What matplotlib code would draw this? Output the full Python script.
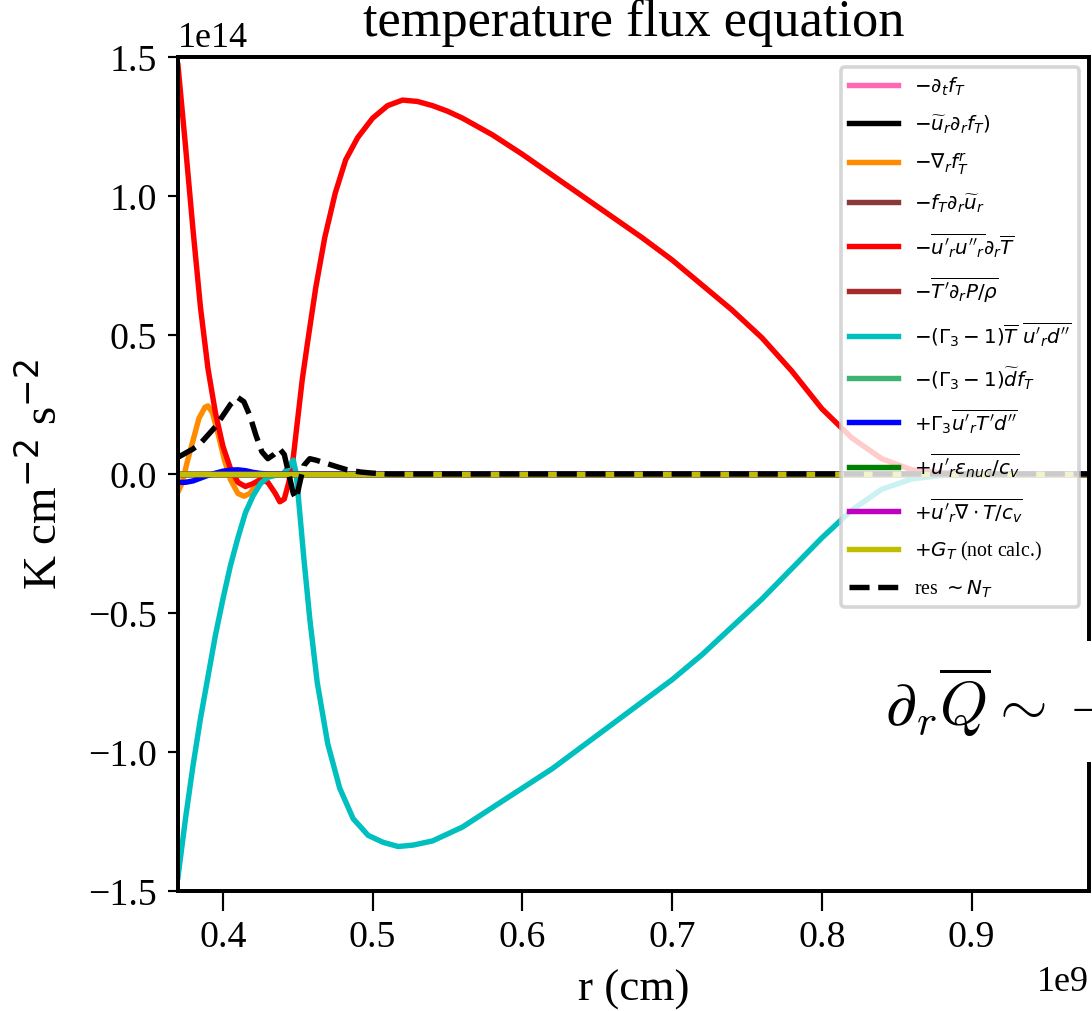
import matplotlib
matplotlib.use("Agg")
import matplotlib.pyplot as plt
import numpy as np
from matplotlib.patches import Rectangle

plt.rcParams["font.family"] = "serif"
plt.rcParams["font.serif"] = ["Liberation Serif", "DejaVu Serif"]
plt.rcParams["mathtext.fontset"] = "dejavusans"

# radius in units of 1e9 cm, terms in units of 1e14 K cm^-2 s^-2
r_red = [0.370, 0.375, 0.380, 0.385, 0.390, 0.395, 0.400, 0.405, 0.410, 0.415,
         0.420, 0.425, 0.430, 0.435, 0.438, 0.441, 0.444, 0.447, 0.450, 0.453,
         0.457, 0.462, 0.468, 0.475, 0.482, 0.490, 0.500, 0.510, 0.520, 0.530,
         0.540, 0.550, 0.560, 0.580, 0.600, 0.620, 0.640, 0.660, 0.680, 0.700,
         0.720, 0.740, 0.760, 0.780, 0.800, 0.820, 0.840, 0.860, 0.880, 0.900, 0.980]
prod_red = [1.47, 1.18, 0.88, 0.60, 0.38, 0.22, 0.10, 0.02, -0.03, -0.045,
            -0.035, -0.02, -0.03, -0.07, -0.10, -0.09, -0.03, 0.06, 0.20, 0.34,
            0.49, 0.67, 0.85, 1.01, 1.13, 1.21, 1.28, 1.325, 1.345, 1.34,
            1.325, 1.305, 1.28, 1.22, 1.15, 1.075, 1.00, 0.925, 0.85, 0.77,
            0.68, 0.59, 0.49, 0.37, 0.235, 0.13, 0.055, 0.015, 0.004, 0.0, 0.0]

r_cyan = [0.370, 0.375, 0.380, 0.385, 0.390, 0.395, 0.400, 0.405, 0.410, 0.415,
          0.420, 0.425, 0.430, 0.435, 0.440, 0.444, 0.447, 0.449, 0.451, 0.454,
          0.458, 0.463, 0.470, 0.478, 0.487, 0.497, 0.507, 0.517, 0.527, 0.540,
          0.560, 0.580, 0.600, 0.620, 0.640, 0.660, 0.680, 0.700, 0.720, 0.740,
          0.760, 0.780, 0.800, 0.820, 0.840, 0.860, 0.880, 0.900, 0.980]
buoy_cyan = [-1.45, -1.24, -1.05, -0.88, -0.73, -0.58, -0.45, -0.33, -0.23, -0.14,
             -0.08, -0.035, -0.012, -0.005, 0.0, 0.025, 0.05, 0.0, -0.12, -0.30,
             -0.52, -0.75, -0.97, -1.13, -1.24, -1.30, -1.325, -1.34, -1.335, -1.32,
             -1.27, -1.20, -1.13, -1.06, -0.98, -0.90, -0.82, -0.74, -0.65, -0.55,
             -0.45, -0.34, -0.23, -0.13, -0.055, -0.018, -0.005, 0.0, 0.0]

r_orange = [0.370, 0.373, 0.376, 0.380, 0.384, 0.388, 0.390, 0.393, 0.397, 0.401,
            0.405, 0.410, 0.414, 0.418, 0.422, 0.427, 0.432, 0.980]
div_orange = [-0.065, -0.03, 0.04, 0.12, 0.20, 0.24, 0.245, 0.22, 0.14, 0.05,
              -0.02, -0.07, -0.08, -0.07, -0.04, -0.01, 0.0, 0.0]

r_blue = [0.370, 0.375, 0.380, 0.385, 0.390, 0.395, 0.400, 0.405, 0.410, 0.415,
          0.420, 0.425, 0.430, 0.980]
gam_blue = [-0.03, -0.03, -0.025, -0.015, -0.005, 0.003, 0.01, 0.014, 0.015, 0.012,
            0.006, 0.002, 0.0, 0.0]

r_res = [0.370, 0.375, 0.380, 0.385, 0.390, 0.395, 0.400, 0.405, 0.410, 0.414,
         0.418, 0.422, 0.426, 0.430, 0.434, 0.438, 0.441, 0.444, 0.447, 0.449,
         0.451, 0.454, 0.458, 0.462, 0.468, 0.475, 0.483, 0.492, 0.500, 0.510, 0.980]
res = [0.06, 0.075, 0.09, 0.11, 0.14, 0.17, 0.21, 0.25, 0.275, 0.26,
       0.21, 0.14, 0.08, 0.055, 0.07, 0.09, 0.07, 0.0, -0.07, -0.09,
       -0.04, 0.03, 0.055, 0.05, 0.04, 0.028, 0.015, 0.007, 0.003, 0.0, 0.0]

# terms that stay at zero over the whole domain
r_flat = [0.370, 0.980]
flat = [0.0, 0.0]

r_ticks = [0.4, 0.5, 0.6, 0.7, 0.8, 0.9]
f_ticks = [-1.5, -1.0, -0.5, 0.0, 0.5, 1.0, 1.5]

labels = [
    r"$-\partial_t f_T$",
    r"$-\widetilde{u}_r \partial_r f_T)$",
    r"$-\nabla_r f_T^r$",
    r"$-f_T \partial_r \widetilde{u}_r$",
    r"$-\overline{u'_r u''_r} \partial_r \overline{T}$",
    r"$-\overline{T' \partial_r P/\rho}$",
    r"$-(\Gamma_3 - 1)\overline{T}\ \overline{u'_r d''}$",
    r"$-(\Gamma_3 - 1)\widetilde{d} f_T$",
    r"$+\Gamma_3 \overline{u'_r T' d''}$",
    r"$+\overline{u'_r \epsilon_{nuc} / c_v}$",
    r"$+\overline{u'_r \nabla \cdot T / c_v}$",
    r"$+G_T$ (not calc.)",
    r"res $\sim N_T$",
]
series = [
    (r_flat, flat, "hotpink", "-"),
    (r_flat, flat, "k", "-"),
    (r_orange, div_orange, "darkorange", "-"),
    (r_flat, flat, "#8b3a3a", "-"),
    (r_red, prod_red, "red", "-"),
    (r_flat, flat, "brown", "-"),
    (r_cyan, buoy_cyan, "c", "-"),
    (r_flat, flat, "mediumseagreen", "-"),
    (r_blue, gam_blue, "b", "-"),
    (r_flat, flat, "g", "-"),
    (r_flat, flat, "m", "-"),
    (r_flat, flat, "y", "-"),
    (r_res, res, "k", "--"),
]

fig = plt.figure(figsize=(4.2, 3.8923), dpi=260)
ax = fig.add_axes([0.163, 0.1186, 0.8343, 0.8241])

for (x, y, col, ls), lab in zip(series, labels):
    ax.plot(np.array(x) * 1e9, np.array(y) * 1e14, color=col, ls=ls, lw=1.5, label=lab)

ax.set_xlim(0.37e9, 0.9785e9)
ax.set_ylim(-1.5e14, 1.5e14)
ax.set_xticks(np.array(r_ticks) * 1e9)
ax.set_yticks(np.array(f_ticks) * 1e14)
ax.ticklabel_format(axis="x", style="sci", scilimits=(9, 9))
ax.ticklabel_format(axis="y", style="sci", scilimits=(14, 14))
ax.set_title("temperature flux equation", fontsize=14.5, pad=6)
ax.set_xlabel("r (cm)", fontsize=12.5, labelpad=4)
ax.set_ylabel(r"K cm$^{-2}$ s$^{-2}$", fontsize=13, labelpad=6)
for s in ax.spines.values():
    s.set_linewidth(1.1)
ax.tick_params(axis="x", length=5.5, width=0.6, pad=2.5, labelsize=10.5)
ax.tick_params(axis="y", length=2.8, width=0.6, pad=3, labelsize=10.5)

ax.legend(loc="upper right", fontsize=5.5, handlelength=2.5, labelspacing=0.78,
          borderaxespad=0.5)

# label of the neighbouring panel running in from the right
fig.add_artist(Rectangle((0.79, 0.246), 0.21, 0.12, transform=fig.transFigure,
                         fc="white", ec="none", zorder=5))
fig.text(0.81, 0.283, r"$\partial_r \overline{Q} \sim -$", fontsize=17,
         math_fontfamily="cm", zorder=6)

fig.savefig("out.png", dpi=260)
